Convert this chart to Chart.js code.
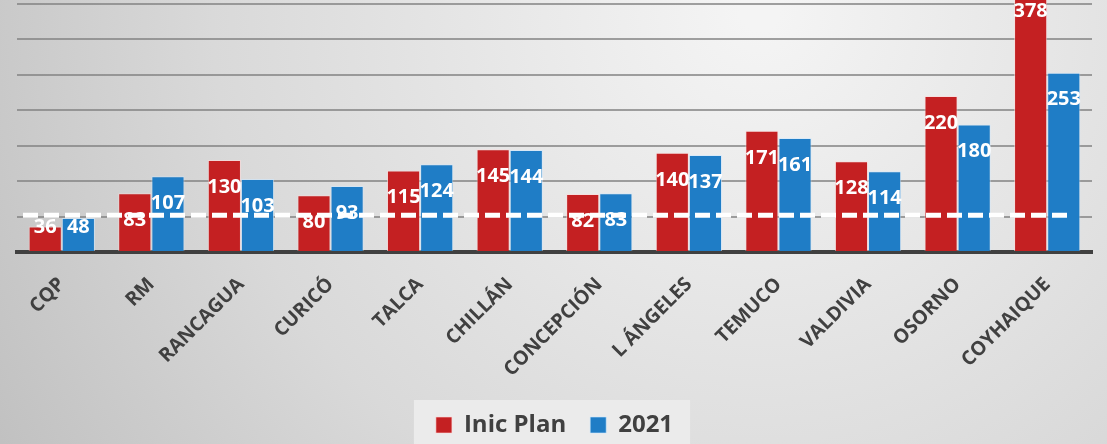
<!DOCTYPE html>
<html>
<head>
<meta charset="utf-8">
<script src="https://cdn.jsdelivr.net/npm/chart.js@4/dist/chart.umd.min.js"></script>
<style>
html,body{margin:0;padding:0;}
#wrap{width:1107px;height:444px;position:relative;}
</style>
</head>
<body>
<div id="wrap"><canvas id="c" width="1107" height="444"></canvas></div>
<script>
const categories = ['CQP','RM','RANCAGUA','CURICÓ','TALCA','CHILLÁN','CONCEPCIÓN','L ÁNGELES','TEMUCO','VALDIVIA','OSORNO','COYHAIQUE'];
const inicPlan = [36,83,130,80,115,145,82,140,171,128,220,378];
const y2021 = [48,107,103,93,124,144,83,137,161,114,180,253];
const referenceLine = 52;
const yMin = 0, yMax = 350, yStep = 50;

const bgPlugin = {
  id: 'bg',
  beforeDraw(chart) {
    const ctx = chart.ctx, w = chart.width, h = chart.height;
    ctx.save();
    const g = ctx.createRadialGradient(760, 10, 20, 760, 10, 900);
    g.addColorStop(0, '#f4f4f4');
    g.addColorStop(0.6, '#d9d9d9');
    g.addColorStop(1, '#bfbfbf');
    ctx.fillStyle = g;
    ctx.fillRect(0, 0, w, h);
    const lg = chart.legend;
    if (lg && lg.legendHitBoxes && lg.legendHitBoxes.length) {
      const hb = lg.legendHitBoxes;
      const last = hb[hb.length-1];
      const x0 = hb[0].left - 22, x1 = last.left + last.width + 17;
      ctx.fillStyle = 'rgba(236,236,236,0.9)';
      ctx.fillRect(x0, 400, x1 - x0, h - 400);
    }
    ctx.restore();
  }
};

const labelPlugin = {
  id: 'vlabels',
  afterDatasetsDraw(chart) {
    const ctx = chart.ctx;
    ctx.save();
    ctx.font = 'bold 20px "Open Sans"';
    ctx.fillStyle = '#ffffff';
    ctx.textAlign = 'center';
    ctx.textBaseline = 'middle';
    chart.data.datasets.forEach((ds, di) => {
      const meta = chart.getDatasetMeta(di);
      meta.data.forEach((bar, i) => {
        const yy = Math.min(bar.y + 27, bar.base - 24);
        ctx.fillText(String(ds.data[i]), bar.x, yy);
      });
    });
    ctx.restore();
  }
};

const refPlugin = {
  id: 'refline',
  afterDraw(chart) {
    const ctx = chart.ctx, a = chart.chartArea;
    const y = chart.scales.y.getPixelForValue(referenceLine);
    ctx.save();
    ctx.strokeStyle = '#ffffff';
    ctx.lineWidth = 5;
    ctx.setLineDash([15, 6]);
    ctx.beginPath();
    ctx.moveTo(a.left + 6, y);
    ctx.lineTo(a.right - 20, y);
    ctx.stroke();
    ctx.restore();
  }
};

new Chart(document.getElementById('c'), {
  type: 'bar',
  data: {
    labels: categories,
    datasets: [
      { label: 'Inic Plan', data: inicPlan, backgroundColor: '#c42022', borderColor: 'rgba(255,215,215,0.6)', borderWidth: 1, clip: false },
      { label: '2021', data: y2021, backgroundColor: '#1f7dc6', borderColor: 'rgba(205,232,255,0.6)', borderWidth: 1, clip: false }
    ]
  },
  options: {
    responsive: false,
    animation: false,
    events: [],
    layout: { padding: { top: 4, left: 17, right: 15, bottom: 0 } },
    datasets: { bar: { categoryPercentage: 0.74, barPercentage: 1.0 } },
    scales: {
      x: {
        grid: { display: false },
        border: { display: true, color: '#404040', width: 4 },
        ticks: {
          color: '#404040',
          font: { family: '"Open Sans"', weight: 'bold', size: 19.5 },
          maxRotation: 45, minRotation: 45, padding: 13, autoSkip: false
        },
        afterFit(s) { s.height = 137; }
      },
      y: {
        min: yMin, max: yMax,
        ticks: { display: false, stepSize: yStep },
        border: { display: false },
        grid: { color: 'rgba(130,130,130,0.75)', lineWidth: 2, drawTicks: false },
        afterFit(s) { s.width = 0; }
      }
    },
    plugins: {
      legend: {
        position: 'bottom',
        maxHeight: 55,
        labels: {
          color: '#404040',
          font: { family: '"Open Sans"', weight: 'bold', size: 24 },
          boxWidth: 16, boxHeight: 16, padding: 24
        }
      },
      tooltip: { enabled: false },
      title: { display: false }
    }
  },
  plugins: [bgPlugin, labelPlugin, refPlugin]
});
</script>
</body>
</html>
